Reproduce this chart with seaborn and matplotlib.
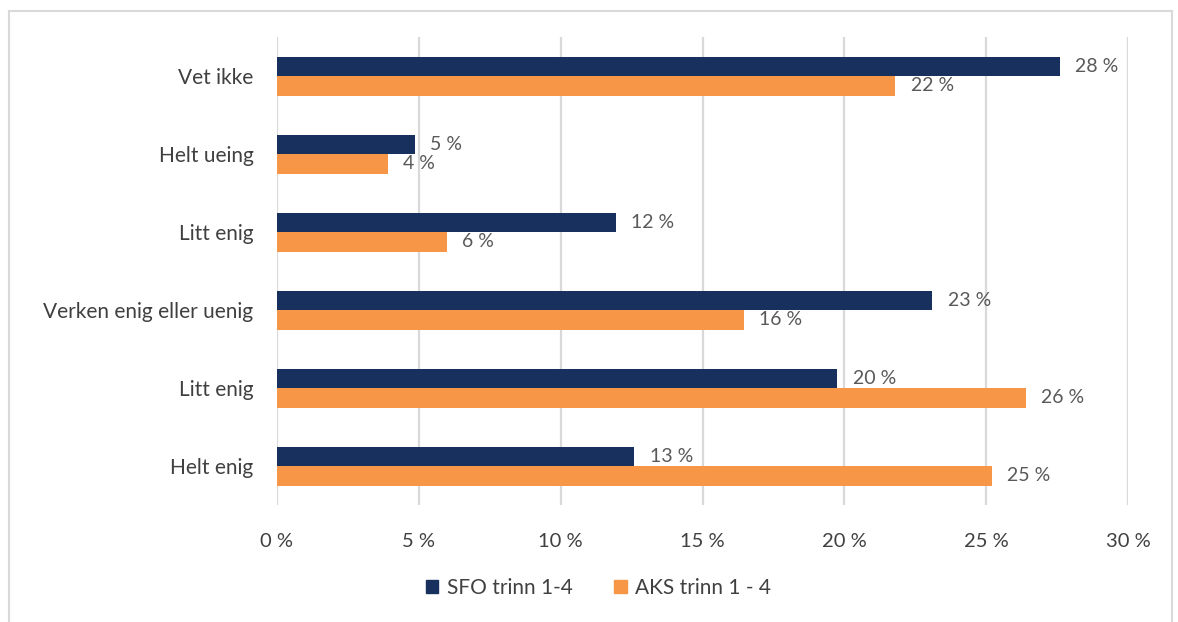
import numpy as np
import pandas as pd
import matplotlib.pyplot as plt
import matplotlib.patches as mpatches
import seaborn as sns

# Data (percent)
categories = ["Vet ikke", "Helt ueing", "Litt enig", "Verken enig eller uenig", "Litt enig", "Helt enig"]
series = ["SFO trinn 1-4", "AKS trinn 1 - 4"]
sfo_values = [27.6, 4.85, 11.95, 23.1, 19.75, 12.6]
aks_values = [21.8, 3.9, 6.0, 16.45, 26.4, 25.2]
colors = ["#17305e", "#f79646"]

# two "Litt enig" rows, so keep a unique key per row and relabel later
keys = [f"{i}_{c}" for i, c in enumerate(categories)]
df = pd.DataFrame({
    "key": keys * 2,
    "serie": [series[0]] * len(keys) + [series[1]] * len(keys),
    "value": sfo_values + aks_values,
})

sns.set_style("white")
plt.rcParams["font.family"] = ["Lato", "DejaVu Sans"]

fig = plt.figure(figsize=(11.78, 6.22), dpi=100)
ax = fig.add_axes([277 / 1178, 1 - 505 / 622, 851 / 1178, 468 / 622])

sns.barplot(data=df, y="key", x="value", hue="serie", order=keys, hue_order=series,
            palette=colors, orient="h", width=0.5, saturation=1, ax=ax, legend=False,
            errorbar=None, linewidth=0)

ax.set_xlim(0, 30)
ax.set_ylim(5.5, -0.5)
ax.set_xticks(np.arange(0, 31, 5))
ax.set_xticklabels([f"{v} %" for v in range(0, 31, 5)], fontsize=14.5, color="#404040")
ax.set_yticks(range(len(categories)))
ax.set_yticklabels(categories, fontsize=15, color="#404040")
ax.tick_params(axis="both", length=0)
ax.tick_params(axis="x", pad=20)
ax.tick_params(axis="y", pad=17)
ax.set_xlabel("")
ax.set_ylabel("")

ax.grid(axis="x", color="#d9d9d9", linewidth=1.6)
ax.set_axisbelow(True)
for s in ax.spines.values():
    s.set_visible(False)

for cont in ax.containers:
    ax.bar_label(cont, labels=[f"{v:.0f} %" for v in cont.datavalues],
                 padding=11, fontsize=14, color="#595959")

handles = [mpatches.Patch(color=c, label=s) for c, s in zip(colors, series)]
fig.legend(handles=handles, loc="center", bbox_to_anchor=(0.508, 0.055), ncol=2,
           frameon=False, fontsize=15, handlelength=0.6, handleheight=0.6,
           columnspacing=2.0, handletextpad=0.4, labelcolor="#404040")

# light frame around the whole chart
fig.patches.append(mpatches.Rectangle((9 / 1178, -0.1), 1163 / 1178, 1.1 - 11 / 622,
                                      transform=fig.transFigure, fill=False,
                                      edgecolor="#d9d9d9", linewidth=1.5))

fig.savefig("out.png", dpi=100, facecolor="white")
